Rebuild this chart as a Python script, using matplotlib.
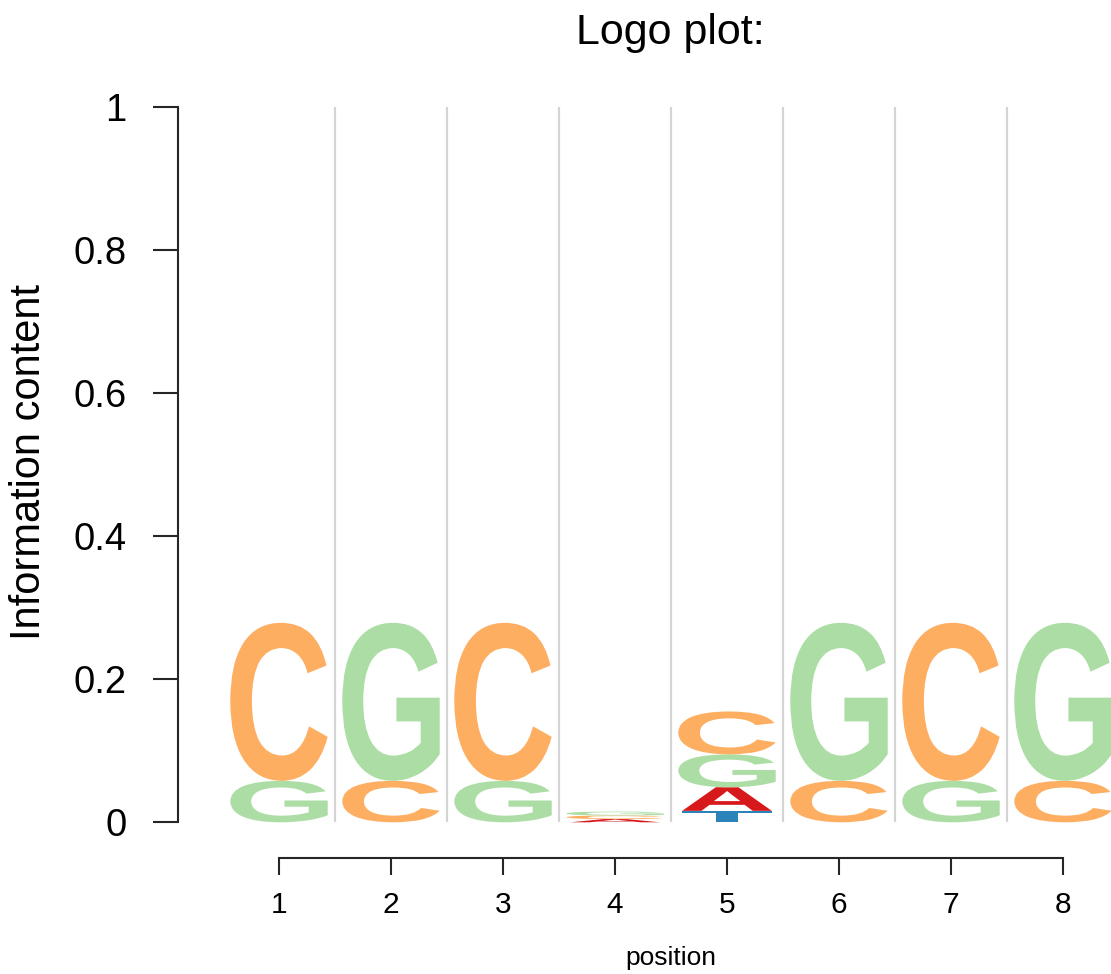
import matplotlib
matplotlib.use("Agg")
import matplotlib.pyplot as plt
from matplotlib.textpath import TextPath
from matplotlib.patches import PathPatch
from matplotlib.font_manager import FontProperties
from matplotlib.transforms import Affine2D

# ---- data ----
positions = [1, 2, 3, 4, 5, 6, 7, 8]
letters = ["A", "C", "G", "T"]
heights_A = [0.0, 0.0, 0.0, 0.0045, 0.033, 0.0, 0.0, 0.0]
heights_C = [0.221, 0.058, 0.221, 0.005, 0.060, 0.058, 0.221, 0.058]
heights_G = [0.058, 0.221, 0.058, 0.0055, 0.046, 0.221, 0.058, 0.221]
heights_T = [0.0, 0.0, 0.0, 0.0, 0.016, 0.0, 0.0, 0.0]
y_ticks = [0, 0.2, 0.4, 0.6, 0.8, 1]
y_tick_labels = ["0", "0.2", "0.4", "0.6", "0.8", "1"]
x_tick_labels = ["1", "2", "3", "4", "5", "6", "7", "8"]

heights = {"A": heights_A, "C": heights_C, "G": heights_G, "T": heights_T}
colors = {"A": "#D7191C", "C": "#FDAE61", "G": "#ABDDA4", "T": "#2B83BA"}
widths = {"A": 0.80, "C": 0.87, "G": 0.87, "T": 0.80}

W, H = 1111, 974
fig = plt.figure(figsize=(W / 100, H / 100), dpi=100)
plt.rcParams['font.family'] = ['Liberation Sans', 'DejaVu Sans']

left_px, right_px = 178, 1111
top_px, base_px = 107.3, 822.3
ax = fig.add_axes([left_px / W, 1 - base_px / H, (right_px - left_px) / W, (base_px - top_px) / H])
px_per_unit = 112.0
ax.set_xlim(1 + (left_px - 279) / px_per_unit, 1 + (right_px - 279) / px_per_unit)
ax.set_ylim(0, 1)

# grid lines between positions
ax.vlines([p + 0.5 for p in positions[:-1]], 0, 1, colors="#d4d4d4", lw=1.6, zorder=0)

fp = FontProperties(family="Liberation Sans", weight="bold")
glyphs = {}
for L in letters:
    tp = TextPath((0, 0), L, size=1, prop=fp)
    glyphs[L] = (tp, tp.get_extents())

for i, p in enumerate(positions):
    vals = sorted([(heights[L][i], L) for L in letters])
    y0 = 0.0
    for h, L in vals:
        if h <= 0:
            continue
        tp, ext = glyphs[L]
        w = widths[L]
        tr = (Affine2D().translate(-ext.x0, -ext.y0)
              .scale(w / ext.width, h / ext.height)
              .translate(p - w / 2, y0))
        path = tr.transform_path(tp)
        ax.add_patch(PathPatch(path, facecolor=colors[L], edgecolor="none",
                               transform=ax.transData, clip_on=False, zorder=2))
        y0 += h

# axes styling (R base style)
for s in ["top", "right"]:
    ax.spines[s].set_visible(False)
ax.spines["left"].set_bounds(0, 1)
ax.spines["bottom"].set_bounds(1, 8)
ax.spines["bottom"].set_position(("outward", 25.7))
for s in ["left", "bottom"]:
    ax.spines[s].set_linewidth(1.5)
    ax.spines[s].set_color("#262626")

ax.set_yticks(y_ticks)
ax.set_yticklabels(y_tick_labels, fontsize=27.5)
ax.set_xticks(positions)
ax.set_xticklabels(x_tick_labels, fontsize=21.5)
ax.tick_params(axis="y", length=18, width=1.5, color="#262626", pad=19)
ax.tick_params(axis="x", length=12.2, width=1.5, color="#262626", pad=11.6)

fig.text(670 / W, 1 - 44.3 / H, "Logo plot:", ha="center", va="baseline", fontsize=31)
fig.text(671 / W, 1 - 965 / H, "position", ha="center", va="baseline", fontsize=19)
fig.text(28.6 / W, 1 - 462.5 / H, "Information content", rotation=90,
         ha="center", va="center", fontsize=30)

fig.savefig("out.png", dpi=100)
